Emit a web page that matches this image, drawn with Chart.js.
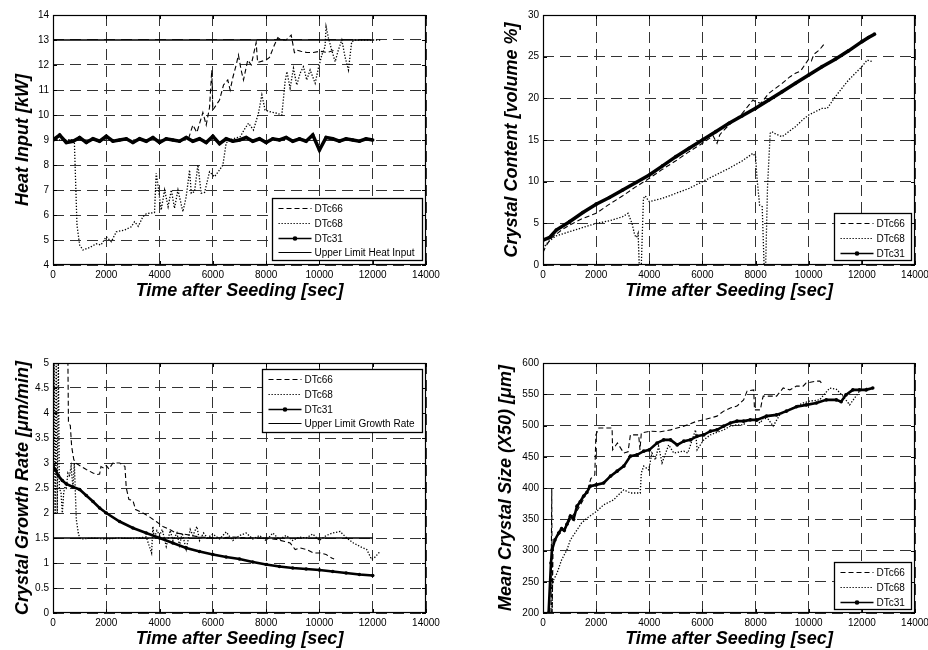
<!DOCTYPE html>
<html>
<head>
<meta charset="utf-8">
<script src="https://cdn.jsdelivr.net/npm/chart.js"></script>
<style>
  body { margin: 0; background: #fff; width: 928px; height: 650px; overflow: hidden; position: relative; }
  canvas { position: absolute; }
</style>
</head>
<body>
<canvas id="heat" width="446" height="302" style="left:0;top:0"></canvas>
<canvas id="content" width="445" height="302" style="left:490px;top:0"></canvas>
<canvas id="growth" width="446" height="302" style="left:0;top:348px"></canvas>
<canvas id="size" width="445" height="302" style="left:490px;top:348px"></canvas>
<script>
// ---- Heat input [kW] ----
const heat66T = [0, 5000, 5100, 5250, 5400, 5625, 5750, 5875, 5960, 6000, 6250, 6400, 6560, 6650, 6750, 6875, 6960, 7060, 7150, 7310, 7440, 7625, 7680, 8000, 8125, 8310, 8440, 8560, 8750, 8940, 9060, 9150, 9300, 9525, 9775, 10025, 10275, 10600];
const heat66V = [9.0, 9.0, 9.1, 9.6, 9.3, 10.1, 9.6, 10.3, 11.8, 10.2, 10.6, 11.2, 11.4, 11.0, 11.5, 12.0, 12.4, 11.8, 11.4, 12.2, 12.0, 12.9, 12.1, 12.2, 12.3, 12.8, 13.1, 13.0, 13.0, 13.2, 12.5, 12.6, 12.55, 12.5, 12.5, 12.55, 12.5, 12.6];
const heat68T = [0, 800, 900, 1000, 1125, 1375, 1625, 1800, 2000, 2190, 2375, 2690, 2940, 3060, 3200, 3375, 3500, 3810, 3875, 3930, 4060, 4190, 4320, 4440, 4560, 4690, 4875, 5000, 5125, 5190, 5310, 5440, 5560, 5690, 5875, 6060, 6250, 6375, 6500, 6600, 7025, 7210, 7340, 7525, 7710, 7840, 7960, 8150, 8400, 8590, 8710, 8780, 8900, 9025, 9150, 9275, 9400, 9525, 9650, 9840, 9960, 10090, 10210, 10250, 10340, 10460, 10590, 10710, 10840, 10960, 11090, 11210, 11340, 11775, 12340];
const heat68V = [9.0, 9.0, 5.6, 4.8, 4.6, 4.7, 4.85, 4.8, 5.13, 4.93, 5.33, 5.4, 5.53, 5.73, 5.55, 5.93, 6.05, 6.1, 7.67, 7.27, 6.2, 7.0, 6.33, 7.0, 6.27, 7.0, 6.13, 6.73, 7.8, 6.87, 6.93, 8.0, 6.87, 6.9, 7.73, 7.53, 7.8, 8.0, 8.87, 9.0, 9.13, 9.47, 9.67, 9.4, 10.07, 10.8, 10.2, 10.13, 10.07, 10.0, 11.33, 11.73, 11.07, 11.87, 11.2, 11.67, 11.93, 11.4, 11.8, 11.27, 11.87, 12.4, 12.73, 13.53, 13.07, 12.6, 12.13, 12.6, 13.0, 12.33, 11.8, 12.93, 13.0, 13.0, 13.0];
const heat31T = [0, 250, 500, 750, 1000, 1250, 1500, 1750, 2000, 2250, 2500, 2750, 3000, 3250, 3500, 3750, 4000, 4250, 4500, 4750, 5000, 5250, 5500, 5750, 6000, 6250, 6500, 6750, 7000, 7250, 7500, 7750, 8000, 8250, 8500, 8750, 9000, 9250, 9500, 9750, 10000, 10250, 10500, 10750, 11000, 11250, 11500, 11750, 12000];
const heat31V = [9.0, 9.2, 8.9, 8.95, 9.1, 8.9, 9.05, 8.95, 9.15, 8.95, 9.0, 9.05, 8.9, 9.05, 8.95, 9.1, 8.9, 9.05, 9.0, 8.95, 9.1, 8.95, 9.05, 8.9, 9.15, 8.85, 9.05, 8.95, 9.0, 9.1, 8.95, 9.05, 8.9, 9.05, 9.0, 9.1, 8.95, 9.05, 8.95, 9.2, 8.6, 9.1, 9.05, 8.95, 9.05, 9.0, 8.95, 9.05, 9.0];
const heatLimitT = [0, 12000];
const heatLimitV = [13, 13];

// ---- Crystal content [volume %] ----
const cont66T = [0, 100, 300, 700, 1000, 1500, 2000, 2500, 3000, 3500, 4000, 4500, 5000, 5500, 6000, 6400, 6550, 6650, 6750, 7000, 7500, 7900, 8000, 8200, 8500, 9000, 9300, 9500, 9700, 10000, 10100, 10200, 10400, 10600];
const cont66V = [1.5, 2.2, 3.2, 4.2, 4.8, 5.6, 6.2, 7.3, 8.3, 9.4, 10.4, 11.5, 12.5, 13.6, 14.6, 15.5, 14.6, 15.6, 16.0, 16.8, 18.2, 19.8, 19.6, 19.4, 20.6, 21.8, 22.6, 23.0, 23.3, 24.7, 24.5, 25.3, 25.8, 26.6];
const cont68T = [0, 200, 500, 1000, 2000, 2500, 3000, 3200, 3350, 3450, 3520, 3580, 3620, 3700, 3780, 3850, 3950, 4000, 4500, 5000, 5500, 6000, 6500, 7000, 7500, 7900, 8000, 8050, 8150, 8250, 8320, 8380, 8450, 8550, 8620, 8700, 9000, 9500, 9800, 10000, 10500, 10700, 11000, 11500, 12000, 12200, 12400];
const cont68V = [2.0, 2.8, 3.5, 4.0, 5.0, 5.3, 5.8, 6.2, 5.0, 3.6, 3.3, 3.8, 0, 0, 8.0, 8.3, 7.8, 7.6, 8.0, 8.6, 9.2, 10.0, 10.8, 11.6, 12.5, 13.4, 13.0, 10.6, 7.2, 7.0, 0, 0, 9.4, 15.8, 16.0, 15.8, 15.4, 16.6, 17.5, 18.0, 18.8, 18.8, 20.2, 22.2, 23.8, 24.6, 24.4];
const cont31T = [0, 250, 500, 1000, 1500, 2000, 2500, 3000, 3500, 4000, 4500, 5000, 5500, 6000, 6500, 7000, 7500, 8000, 8500, 9000, 9500, 10000, 10500, 11000, 11500, 12000, 12250, 12475];
const cont31V = [3.0, 3.3, 4.2, 5.2, 6.3, 7.3, 8.1, 9.0, 9.9, 10.8, 11.9, 13.0, 14.0, 15.0, 16.0, 17.0, 17.9, 18.8, 19.8, 20.8, 21.8, 22.8, 23.8, 24.7, 25.7, 26.8, 27.3, 27.7];

// ---- Crystal growth rate [um/min] ----
const grow66T = [400, 560, 580, 650, 700, 780, 850, 1000, 1250, 1500, 1650, 1750, 1800, 1900, 2000, 2100, 2250, 2500, 2650, 2700, 2750, 2850, 3000, 3100, 3375, 3600, 3875, 4125, 4375, 4625, 5000, 5500, 6125, 6750, 7375, 8000, 8400, 8700, 8900, 9090, 9275, 9525, 9775, 10025, 10250, 10460, 10550];
const grow66V = [6.0, 5.0, 3.8, 3.75, 3.33, 3.07, 3.0, 2.95, 2.87, 2.8, 2.77, 2.78, 2.93, 2.9, 2.95, 2.88, 3.0, 3.0, 2.95, 2.93, 2.5, 2.27, 2.25, 2.07, 2.0, 1.93, 1.83, 1.73, 1.67, 1.6, 1.57, 1.52, 1.5, 1.52, 1.5, 1.5, 1.47, 1.43, 1.4, 1.27, 1.3, 1.27, 1.2, 1.2, 1.17, 1.1, 1.08];
const grow68T = [0, 40, 80, 120, 160, 200, 240, 300, 350, 400, 450, 500, 560, 620, 680, 750, 800, 875, 950, 1000, 1060, 1500, 2000, 2500, 3000, 3500, 3700, 3750, 3800, 3900, 4000, 4100, 4250, 4400, 4500, 4650, 4750, 4850, 5000, 5150, 5250, 5400, 5500, 5650, 5800, 6000, 6250, 6500, 6750, 7000, 7250, 7500, 7750, 8000, 8250, 8500, 8750, 9000, 9250, 9500, 9750, 10000, 10250, 10500, 10775, 11025, 11275, 11525, 11775, 11960, 12090, 12275];
const grow68V = [1.6, 5.2, 2.0, 5.2, 2.0, 5.2, 2.5, 2.4, 2.0, 2.4, 2.53, 2.5, 2.8, 2.75, 2.93, 2.5, 3.0, 1.87, 1.6, 1.5, 1.48, 1.5, 1.48, 1.5, 1.49, 1.52, 1.2, 1.73, 1.5, 1.65, 1.55, 1.67, 1.33, 1.65, 1.45, 1.6, 1.35, 1.6, 1.27, 1.67, 1.55, 1.73, 1.45, 1.6, 1.5, 1.58, 1.48, 1.62, 1.45, 1.55, 1.6, 1.48, 1.55, 1.45, 1.6, 1.47, 1.55, 1.45, 1.52, 1.5, 1.58, 1.45, 1.55, 1.6, 1.63, 1.5, 1.4, 1.33, 1.27, 1.07, 1.12, 1.23];
const grow31T = [0, 100, 200, 350, 500, 750, 1000, 1250, 1500, 1750, 2000, 2500, 3000, 3500, 4000, 4500, 5000, 5500, 6000, 6500, 7000, 7500, 8000, 8500, 9000, 9500, 10000, 10500, 11000, 11500, 12000];
const grow31V = [2.95, 2.85, 2.75, 2.65, 2.58, 2.52, 2.47, 2.35, 2.23, 2.1, 2.0, 1.83, 1.7, 1.6, 1.5, 1.4, 1.3, 1.23, 1.17, 1.12, 1.08, 1.02, 0.97, 0.93, 0.9, 0.88, 0.86, 0.83, 0.8, 0.77, 0.75];
const growLimitT = [0, 12000];
const growLimitV = [1.5, 1.5];

// ---- Mean crystal size X50 [um] ----
const size66T = [300, 330, 345, 380, 500, 700, 900, 1100, 1300, 1500, 1700, 1800, 1950, 1990, 2100, 2600, 2620, 2800, 3040, 3200, 3290, 3600, 3650, 3700, 4040, 4420, 4800, 5300, 5800, 6050, 6300, 6550, 6800, 7050, 7300, 7550, 7680, 7930, 7960, 8180, 8250, 8290, 8540, 8790, 9040, 9290, 9540, 9790, 9900, 10290, 10420, 10540];
const size66V = [200, 400, 200, 310, 322, 330, 340, 355, 365, 380, 400, 415, 421, 485, 496, 496, 461, 472, 456, 458, 485, 485, 461, 488, 491, 490, 493, 499, 507, 509, 512, 515, 523, 528, 531, 541, 555, 557, 525, 525, 541, 547, 547, 547, 560, 557, 563, 563, 568, 571, 571, 565];
const size68T = [340, 350, 400, 530, 700, 900, 1030, 1280, 1450, 1660, 2030, 2280, 2660, 2790, 3040, 3290, 3660, 3700, 3790, 3980, 4100, 4230, 4350, 4480, 4730, 4920, 5300, 5450, 5740, 5800, 6050, 6300, 6610, 6800, 7050, 7300, 7550, 7680, 7930, 8180, 8290, 8480, 8660, 8910, 9160, 9540, 9790, 10040, 10410, 10790, 11040, 11290, 11540, 11660, 11910, 12230, 12350];
const size68V = [200, 243, 253, 264, 285, 301, 317, 333, 344, 352, 363, 373, 381, 387, 397, 392, 392, 424, 435, 429, 456, 445, 467, 440, 469, 456, 459, 456, 493, 461, 477, 485, 490, 493, 499, 501, 501, 509, 509, 504, 512, 510, 499, 517, 523, 531, 536, 539, 541, 560, 558, 547, 533, 540, 555, 560, 557];
const size31T = [210, 300, 340, 450, 590, 700, 800, 900, 1030, 1150, 1280, 1400, 1530, 1650, 1780, 2000, 2280, 2540, 2790, 3040, 3290, 3540, 3790, 4000, 4290, 4540, 4800, 5050, 5300, 5550, 5800, 6050, 6300, 6550, 6800, 7050, 7300, 7550, 7800, 8050, 8410, 8790, 9160, 9540, 9910, 10290, 10660, 11040, 11220, 11400, 11660, 11910, 12160, 12410];
const size31V = [200, 280, 301, 317, 328, 335, 332, 342, 355, 350, 371, 378, 387, 393, 403, 405, 408, 419, 427, 435, 451, 453, 459, 461, 472, 477, 477, 469, 475, 477, 483, 485, 491, 493, 499, 504, 507, 507, 509, 509, 515, 517, 523, 530, 533, 536, 541, 541, 538, 549, 557, 557, 557, 560];

Chart.defaults.font.family = '"Liberation Sans", Arial, sans-serif';
Chart.defaults.color = '#000';

function pts(ts, vs) {
  return ts.map((t, i) => ({ x: t, y: vs[i] }));
}

function dashed(ts, vs) {
  return { label: 'DTc66', data: pts(ts, vs), borderColor: '#000', borderWidth: 1.1, borderDash: [5, 3], pointRadius: 0, order: 2 };
}
function dotted(ts, vs) {
  return { label: 'DTc68', data: pts(ts, vs), borderColor: '#000', borderWidth: 1.3, borderDash: [1.3, 1.7], pointRadius: 0, order: 1 };
}
function thick(ts, vs, w) {
  return { label: 'DTc31', data: pts(ts, vs), borderColor: '#000', borderWidth: w, pointRadius: 1.8,
           pointBackgroundColor: '#000', pointBorderWidth: 0, marker: true, order: 0 };
}
function limit(label, ts, vs) {
  return { label: label, data: pts(ts, vs), borderColor: '#000', borderWidth: 1.3, pointRadius: 0, order: 3 };
}

// frame, inward tick marks and the boxed legend inside the axes
const boxLegend = {
  id: 'boxLegend',
  afterDraw(chart, args, opts) {
    const { ctx, chartArea: a } = chart;
    const xs = chart.scales.x, ys = chart.scales.y;
    ctx.save();
    ctx.setLineDash([]);
    ctx.strokeStyle = '#000';
    ctx.lineWidth = 1;
    ctx.beginPath();
    xs.ticks.forEach(t => {
      const px = Math.round(xs.getPixelForValue(t.value)) + 0.5;
      ctx.moveTo(px, a.bottom); ctx.lineTo(px, a.bottom - 4);
      ctx.moveTo(px, a.top); ctx.lineTo(px, a.top + 4);
    });
    ys.ticks.forEach(t => {
      const py = Math.round(ys.getPixelForValue(t.value)) + 0.5;
      ctx.moveTo(a.left, py); ctx.lineTo(a.left + 4, py);
      ctx.moveTo(a.right, py); ctx.lineTo(a.right - 4, py);
    });
    ctx.stroke();
    ctx.lineWidth = 1.2;
    ctx.strokeRect(a.left + 0.5, a.top + 0.5, a.right - a.left - 1, a.bottom - a.top - 1);

    const w = opts.width, h = opts.height;
    const x = Math.round(a.right - opts.right - w) + 0.5;
    const y = Math.round(opts.top != null ? a.top + opts.top : a.bottom - opts.bottom - h) + 0.5;
    ctx.fillStyle = '#fff';
    ctx.fillRect(x, y, w, h);
    ctx.lineWidth = 1.3;
    ctx.strokeRect(x, y, w, h);
    ctx.font = '10px "Liberation Sans", Arial, sans-serif';
    ctx.textBaseline = 'middle';
    ctx.fillStyle = '#000';
    chart.data.datasets.forEach((ds, i) => {
      const cy = Math.round(y + 9.5 + i * 14.8) + 0.5;
      ctx.setLineDash(ds.borderDash || []);
      ctx.lineWidth = ds.marker ? 1.5 : 1.2;
      ctx.beginPath();
      ctx.moveTo(x + 6, cy);
      ctx.lineTo(x + 39, cy);
      ctx.stroke();
      ctx.setLineDash([]);
      if (ds.marker) {
        ctx.beginPath();
        ctx.arc(x + 22.5, cy, 2.3, 0, Math.PI * 2);
        ctx.fill();
      }
      ctx.fillText(ds.label, x + 42, cy + 0.5);
    });
    ctx.restore();
  }
};

function makeChart(id, datasets, yMin, yMax, yStep, yTitle, yTitlePad, legend) {
  return new Chart(document.getElementById(id), {
    type: 'line',
    data: { datasets: datasets },
    options: {
      responsive: false,
      animation: false,
      devicePixelRatio: 1,
      layout: { padding: { top: 15, right: 20, bottom: 0, left: 0 } },
      elements: { line: { tension: 0 } },
      plugins: { legend: { display: false }, tooltip: { enabled: false }, boxLegend: legend },
      scales: {
        x: {
          type: 'linear', min: 0, max: 14000,
          ticks: { stepSize: 2000, autoSkip: false, maxRotation: 0, padding: 4, font: { size: 10 }, color: '#000',
                   callback: v => String(v) },
          grid: { color: '#333', lineWidth: 1, drawTicks: false },
          border: { display: false, dash: [11, 6] },
          title: { display: true, text: 'Time after Seeding [sec]', color: '#000', padding: 0,
                   font: { size: 18, weight: 'bold', style: 'italic' } },
          afterFit: s => { s.height = 37; }
        },
        y: {
          type: 'linear', min: yMin, max: yMax,
          ticks: { stepSize: yStep, autoSkip: false, padding: 4, font: { size: 10 }, color: '#000',
                   callback: v => String(v) },
          grid: { color: '#333', lineWidth: 1, drawTicks: false },
          border: { display: false, dash: [11, 6] },
          title: { display: true, text: yTitle, color: '#000', padding: { top: yTitlePad, bottom: 0 },
                   font: { size: 18, weight: 'bold', style: 'italic' } },
          afterFit: s => { s.width = 53; }
        }
      }
    },
    plugins: [boxLegend]
  });
}

makeChart('heat', [
  dashed(heat66T, heat66V),
  dotted(heat68T, heat68V),
  thick(heat31T, heat31V, 3.5),
  limit('Upper Limit Heat Input', heatLimitT, heatLimitV)
], 4, 14, 1, 'Heat Input [kW]', 12, { right: 4, bottom: 5, width: 150, height: 62 });

makeChart('content', [
  dashed(cont66T, cont66V),
  dotted(cont68T, cont68V),
  thick(cont31T, cont31V, 3.5)
], 0, 30, 5, 'Crystal Content [volume %]', 11, { right: 4, bottom: 5, width: 77, height: 47 });

makeChart('growth', [
  dashed(grow66T, grow66V),
  dotted(grow68T, grow68V),
  thick(grow31T, grow31V, 2.6),
  limit('Upper Limit Growth Rate', growLimitT, growLimitV)
], 0, 5, 0.5, 'Crystal Growth Rate [μm/min]', 12, { right: 4, top: 6, width: 160, height: 63 });

makeChart('size', [
  dashed(size66T, size66V),
  dotted(size68T, size68V),
  thick(size31T, size31V, 2.6)
], 200, 600, 50, 'Mean Crystal Size (X50) [μm]', 5, { right: 4, bottom: 4, width: 77, height: 47 });
</script>
</body>
</html>
